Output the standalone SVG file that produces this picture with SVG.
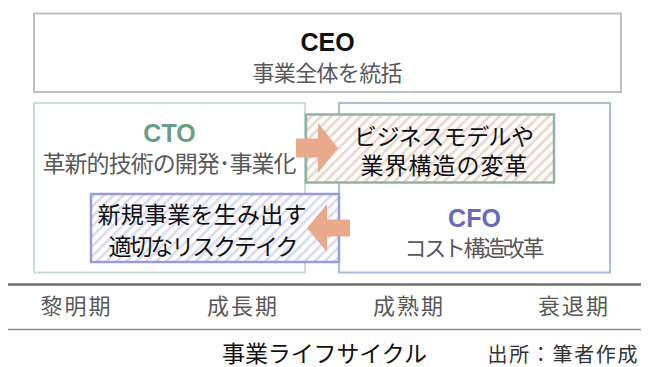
<svg xmlns="http://www.w3.org/2000/svg" width="649" height="367" viewBox="0 0 649 367">
<defs>
<pattern id="hatchPink" width="7" height="7" patternUnits="userSpaceOnUse" patternTransform="rotate(45)">
<rect width="7" height="7" fill="#ffffff"/><rect width="2.6" height="7" fill="#ead6cc"/>
</pattern>
<pattern id="hatchBlue" width="7" height="7" patternUnits="userSpaceOnUse" patternTransform="rotate(45)">
<rect width="7" height="7" fill="#ffffff"/><rect width="2.6" height="7" fill="#dadaf0"/>
</pattern>
<style>
.jp{font-family:"Liberation Sans","Noto Sans CJK JP",sans-serif;}
.gray{fill:#595959;}
.blk{fill:#111111;}
.title{font-family:"Liberation Sans","Noto Sans CJK JP",sans-serif;font-weight:bold;font-size:25px;}
.arrow{fill:#e9a98a;}
</style>
</defs>
<rect width="649" height="367" fill="#ffffff"/>

<g id="ceo">
<rect x="34" y="13.5" width="587" height="78.5" fill="#ffffff" stroke="#bfbfbf" stroke-width="2"/>
<text class="title blk" x="327.5" y="51" text-anchor="middle">CEO</text>
<text class="jp gray" x="327.5" y="81" font-size="22" text-anchor="middle" textLength="150" lengthAdjust="spacing">事業全体を統括</text>
</g>

<g id="cto">
<rect x="34" y="103" width="271" height="169.5" fill="#ffffff" stroke="#c9ddd5" stroke-width="2"/>
<text class="title" x="169.5" y="142" text-anchor="middle" fill="#6b9e87">CTO</text>
<text class="jp gray" x="169.5" y="172" font-size="23" text-anchor="middle" textLength="254" lengthAdjust="spacing">革新的技術の開発･事業化</text>
</g>

<g id="cfo">
<rect x="339" y="103" width="271" height="169.5" fill="#ffffff" stroke="#a9bfd8" stroke-width="2"/>
<text class="title" x="474.5" y="227" text-anchor="middle" fill="#6a6ab8">CFO</text>
<text class="jp gray" x="474.5" y="256" font-size="22" text-anchor="middle" textLength="140" lengthAdjust="spacing">コスト構造改革</text>
</g>

<g id="business-model">
<rect x="306" y="114.5" width="248" height="68" fill="url(#hatchPink)" stroke="#93b4a5" stroke-width="2.5"/>
<text class="jp blk" x="444" y="145" font-size="23" text-anchor="middle" textLength="180" lengthAdjust="spacing">ビジネスモデルや</text>
<text class="jp blk" x="444" y="174" font-size="23" text-anchor="middle" textLength="167" lengthAdjust="spacing">業界構造の変革</text>
</g>

<g id="risk-taking">
<rect x="91" y="194" width="248" height="68" fill="url(#hatchBlue)" stroke="#9a9ad6" stroke-width="2.5"/>
<text class="jp blk" x="202" y="223" font-size="23" text-anchor="middle" textLength="209" lengthAdjust="spacing">新規事業を生み出す</text>
<text class="jp blk" x="203.5" y="255" font-size="23" text-anchor="middle" textLength="190" lengthAdjust="spacing">適切なリスクテイク</text>
</g>

<g id="connectors">
<polygon class="arrow" points="296,138.5 318,138.5 318,123 338,148 318,173 318,157.5 296,157.5"/>
<polygon class="arrow" points="350,219.5 327,219.5 327,204 307,228 327,252 327,236.5 350,236.5"/>
</g>

<g id="lifecycle-axis">
<line x1="8" y1="284.5" x2="641" y2="284.5" stroke="#6e6e6e" stroke-width="2.5"/>
<line x1="8" y1="329.5" x2="641" y2="329.5" stroke="#8c8c8c" stroke-width="1.5"/>
<text class="jp gray" x="75.5" y="314" font-size="22" text-anchor="middle" textLength="70" lengthAdjust="spacing">黎明期</text>
<text class="jp gray" x="242" y="314" font-size="22" text-anchor="middle" textLength="70" lengthAdjust="spacing">成長期</text>
<text class="jp gray" x="408" y="314" font-size="22" text-anchor="middle" textLength="70" lengthAdjust="spacing">成熟期</text>
<text class="jp gray" x="573" y="314" font-size="22" text-anchor="middle" textLength="70" lengthAdjust="spacing">衰退期</text>
<text class="jp blk" x="324.5" y="362" font-size="23" text-anchor="middle" textLength="205" lengthAdjust="spacing">事業ライフサイクル</text>
<text class="jp" x="562.5" y="362" font-size="20" text-anchor="middle" fill="#333333" textLength="150" lengthAdjust="spacing">出所：筆者作成</text>
</g>
</svg>
